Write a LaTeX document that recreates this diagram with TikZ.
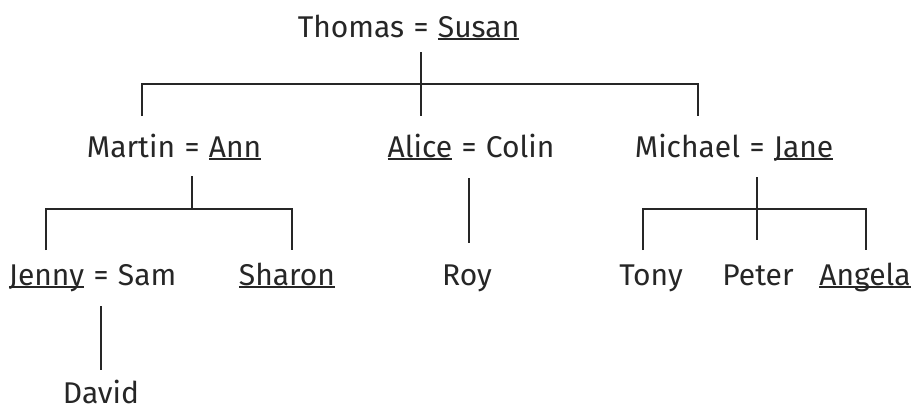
\documentclass[tikz,border=0pt]{standalone}
\usepackage{fontspec}
\usetikzlibrary{positioning}
\newfontfamily\famfont{Fira Sans}
\newsavebox\undbox
\newcommand\und[1]{\sbox\undbox{#1}\rlap{\rule[-2.6pt]{\wd\undbox}{1.2pt}}\usebox\undbox}
\tikzset{
  famtext/.style={font={\famfont\fontsize{30}{36}\selectfont}, text=black!85, inner sep=0pt, text height=22pt, text depth=3pt},
  famline/.style={line width=1.6pt, draw=black!85},
}
\begin{document}
\begin{tikzpicture}[x=1pt, y=-1pt, node distance=9pt]
	\useasboundingbox (0,0) rectangle (916,410);
	% first generation
	\node[famtext, anchor=base] (eqA) at (421,37) {=};
	\node[famtext, left=of eqA]  (thomas) {Thomas};
	\node[famtext, right=of eqA] (susan)  {\und{Susan}};
	% second generation
	\node[famtext, anchor=base] (eqB) at (192,157) {=};
	\node[famtext, left=of eqB]  (martin) {Martin};
	\node[famtext, right=of eqB] (ann)    {\und{Ann}};
	\node[famtext, anchor=base] (eqC) at (469,157) {=};
	\node[famtext, left=of eqC]  (alice)  {\und{Alice}};
	\node[famtext, right=of eqC] (colin)  {Colin};
	\node[famtext, anchor=base] (eqD) at (757,157) {=};
	\node[famtext, left=of eqD]  (michael) {Michael};
	\node[famtext, right=of eqD] (jane)    {\und{Jane}};
	% third generation
	\node[famtext, anchor=base] (eqE) at (101,285) {=};
	\node[famtext, left=of eqE]  (jenny) {\und{Jenny}};
	\node[famtext, right=of eqE] (sam)   {Sam};
	\node[famtext, anchor=base] (sharon) at (287,285) {\und{Sharon}};
	\node[famtext, anchor=base] (roy)    at (467,285) {Roy};
	\node[famtext, anchor=base] (tony)   at (651,285) {Tony};
	\node[famtext, anchor=base] (peter)  at (758,285) {Peter};
	\node[famtext, anchor=base] (angela) at (865,285) {\und{Angela}};
	% fourth generation
	\node[famtext, anchor=base] (david)  at (101,403) {David};
	% bar ends
	\coordinate (kidsA-l) at (142,116);
	\coordinate (kidsA-r) at (698,116);
	\coordinate (kidsB-l) at (46,250);
	\coordinate (kidsB-r) at (292,250);
	\coordinate (kidsD-l) at (643,250);
	\coordinate (kidsD-r) at (866,250);
	% lines of descent
	\draw[famline] (eqA.south) ++(0,12) -- ++(0,64);
	\draw[famline] (kidsA-l) -- ++(0,-32) -| (kidsA-r);
	\draw[famline] (eqB.south) ++(0,16) -- ++(0,33);
	\draw[famline] (kidsB-l) -- ++(0,-41) -| (kidsB-r);
	\draw[famline] (eqC.south) ++(0,18) -- ++(0,65);
	\draw[famline] (eqD.south) ++(0,17) -- ++(0,63);
	\draw[famline] (kidsD-l) -- ++(0,-41) -| (kidsD-r);
	\draw[famline] (eqE.south) ++(0,18) -- ++(0,64);
\end{tikzpicture}
\end{document}
